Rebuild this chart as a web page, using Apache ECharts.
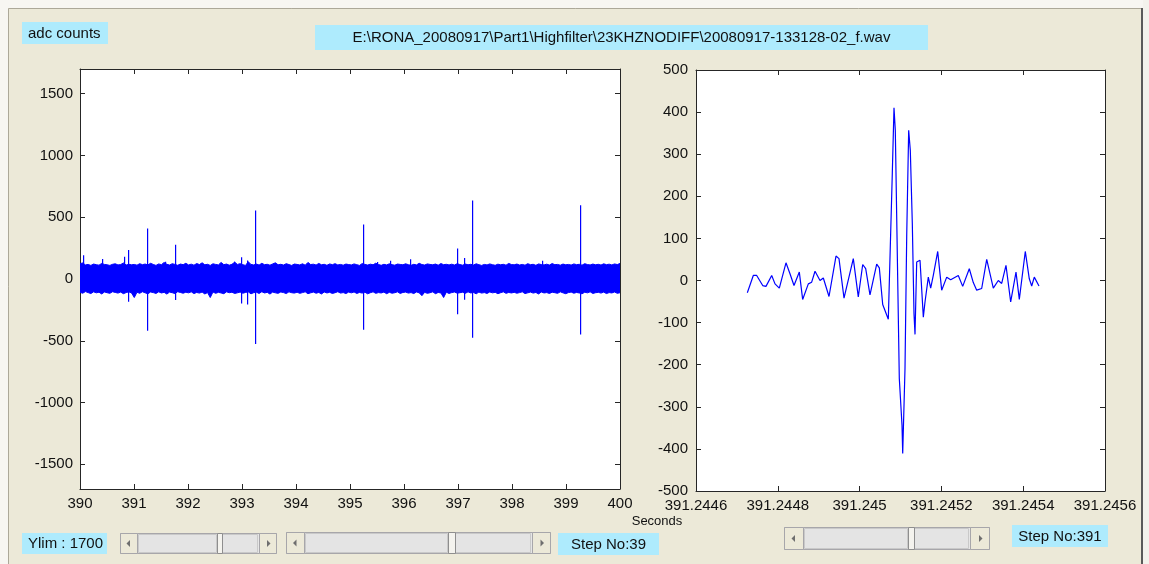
<!DOCTYPE html>
<html><head><meta charset="utf-8">
<script src="https://cdn.jsdelivr.net/npm/echarts@6/dist/echarts.min.js"></script>
<style>html,body{margin:0;padding:0;background:#fff;}#c{width:1149px;height:564px;}</style>
</head><body><div id="c"></div>
<script>
// ---------------- data ----------------
const titleText = 'E:\\RONA_20080917\\Part1\\Highfilter\\23KHZNODIFF\\20080917-133128-02_f.wav';
const yLabelText = 'adc counts';
const xLabelText = 'Seconds';
const ylimText = 'Ylim : 1700';
const stepLeftText = 'Step No:39';
const stepRightText = 'Step No:391';

const leftXMin = 390, leftXMax = 400;
const leftXTicks = [390, 391, 392, 393, 394, 395, 396, 397, 398, 399, 400];
const leftYLim = 1700;
const leftYTicks = [-1500, -1000, -500, 0, 500, 1000, 1500];

// noise band envelope, 200 bins across 390..400 s
const bandHi = [
124,130,114,118,110,121,116,112,126,118,115,110,119,123,114,117,130,113,119,115,
118,112,124,116,121,114,127,118,110,122,116,134,119,113,124,118,111,121,116,127,
114,120,112,125,117,131,115,119,110,123,118,114,134,116,121,112,119,136,118,124,
116,110,140,118,114,121,113,127,116,119,112,122,131,115,119,113,124,117,110,121,
118,114,123,112,134,117,120,113,126,115,119,111,122,116,124,114,118,112,121,117,
114,122,116,110,125,118,113,120,115,128,117,111,119,114,123,116,112,121,118,115,
123,116,111,119,114,127,117,113,122,118,115,121,112,125,116,119,114,120,113,124,
117,112,121,115,119,113,123,116,110,118,114,122,116,111,120,115,119,112,126,117,
115,121,113,118,112,124,116,119,111,122,117,114,120,113,125,116,118,112,121,115,
118,113,122,116,119,112,124,117,114,121,115,119,113,123,116,120,114,122,117,126];
const bandLo = [
-108,-115,-102,-110,-118,-104,-112,-107,-121,-105,-111,-116,-103,-109,-114,-106,-119,-110,-104,-113,
-150,-107,-116,-103,-112,-120,-105,-110,-117,-104,-113,-108,-122,-106,-111,-118,-103,-109,-115,-107,
-112,-104,-118,-109,-114,-106,-121,-110,-150,-105,-116,-108,-113,-119,-104,-111,-107,-117,-112,-106,
-115,-109,-104,-120,-111,-107,-117,-103,-113,-108,-122,-106,-112,-116,-105,-110,-118,-104,-111,-114,
-107,-116,-110,-104,-119,-112,-106,-115,-109,-121,-105,-113,-108,-117,-111,-103,-114,-110,-118,-106,
-112,-105,-117,-109,-114,-107,-120,-111,-104,-116,-110,-113,-106,-119,-108,-115,-111,-104,-117,-109,
-106,-114,-110,-118,-105,-112,-135,-108,-116,-111,-104,-119,-109,-113,-150,-107,-117,-110,-105,-115,
-111,-107,-116,-104,-113,-109,-120,-106,-114,-110,-117,-105,-112,-108,-119,-111,-104,-116,-109,-113,
-108,-115,-110,-104,-118,-112,-106,-114,-109,-121,-105,-113,-110,-117,-107,-111,-116,-104,-112,-119,
-110,-106,-115,-109,-113,-120,-107,-112,-104,-117,-111,-108,-114,-106,-118,-110,-113,-105,-116,-111];

// isolated spikes (time, upper extreme, lower extreme)
const spikeTimes = [390.06, 390.41, 390.82, 390.895, 391.246, 391.57, 391.76, 392.85, 392.98, 393.09, 393.24, 395.246, 395.5, 395.74, 396.11, 396.975, 397.12, 397.253, 398.56, 399.26];
const spikeUp    = [193, 161, 180, 234, 409, 140, 277, 140, 177, 150, 554, 441, 137, 148, 159, 247, 169, 635, 148, 597];
const spikeDown  = [0, 0, 0, -185, -419, 0, -170, 0, -199, -207, -527, -411, 0, 0, 0, -285, -167, -476, 0, -449];

const rightXMin = 391.2446, rightXMax = 391.2456;
const rightXTicks = [391.2446, 391.2448, 391.245, 391.2452, 391.2454, 391.2456];
const rightYMin = -500, rightYMax = 500;
const rightYTicks = [-500, -400, -300, -200, -100, 0, 100, 200, 300, 400, 500];

const waveTimes = [391.2447255, 391.2447401, 391.2447484, 391.2447631, 391.2447711, 391.2447851, 391.2447932, 391.2448037, 391.2448200, 391.2448298,
 391.2448396, 391.2448526, 391.2448608, 391.2448746, 391.2448828, 391.2448910, 391.2449032, 391.2449113, 391.2449252, 391.2449423,
 391.2449496, 391.2449619, 391.2449846, 391.2449968, 391.2450076, 391.2450149, 391.2450254, 391.2450418, 391.2450482, 391.2450565,
 391.2450702, 391.2450800, 391.2450841, 391.2450873, 391.2450971, 391.2451037, 391.2451054, 391.2451110, 391.2451152, 391.2451200,
 391.2451240, 391.2451289, 391.2451330, 391.2451355, 391.2451396, 391.2451477, 391.2451558, 391.2451599, 391.2451680, 391.2451738,
 391.2451802, 391.2451910, 391.2452007, 391.2452130, 391.2452227, 391.2452413, 391.2452521, 391.2452682, 391.2452780, 391.2452863,
 391.2452985, 391.2453108, 391.2453269, 391.2453391, 391.2453474, 391.2453579, 391.2453694, 391.2453824, 391.2453905, 391.2454051,
 391.2454149, 391.2454208, 391.2454271, 391.2454386];
const waveValues = [-29,12,12,-12,-14,12,-8,-18,42,16,
 -12,20,-45,-8,-4,22,0,6,-38,58,
 52,-42,52,-39,38,28,-34,39,30,-57,
 -92,256,410,357,-233,-344,-411,-209,107,357,
 309,135,-79,-128,44,48,-87,-51,8,-18,
 12,69,-23,8,2,12,-14,28,-5,-23,
 -19,50,-18,0,-7,36,-51,20,-45,69,
 4,-13,8,-13];

// ---------------- styling ----------------
const FONT = '"Liberation Sans", Arial, sans-serif';
const BLUE = '#0000FF';
const AXC = '#262626';
const CYAN = '#AEEBFD';
const BEIGE = '#ECE9D8';

function axisCommon(extra) {
  return Object.assign({
    type: 'value', scale: false,
    axisLine: { show: true, onZero: false, lineStyle: { color: AXC, width: 1 } },
    axisTick: { show: true, inside: true, length: 5, lineStyle: { color: AXC } },
    splitLine: { show: false },
    axisLabel: { color: '#111', fontFamily: FONT, fontSize: 15 }
  }, extra);
}
const plainFmt = v => String(v);

const bandN = bandHi.length;
const bandT = bandHi.map((_, i) => leftXMin + i * (leftXMax - leftXMin) / (bandN - 1));

const chart = echarts.init(document.getElementById('c'), null, { renderer: 'canvas' });

function scrollbar(x, y, w, h, thumbX, thumbW) {
  const bw = h - 3;
  const els = [];
  els.push({ type: 'rect', shape: { x: x + 0.5, y: y + 0.5, width: w, height: h }, style: { fill: '#E6E6E6', stroke: '#A7A6AA', lineWidth: 1 } });
  els.push({ type: 'rect', shape: { x: x + bw + 1.5, y: y + 1.5, width: thumbX - x - bw - 2, height: h - 2 }, style: { fill: '#E4E4E4', stroke: '#C9C9C9', lineWidth: 1 } });
  els.push({ type: 'rect', shape: { x: thumbX + thumbW + 0.5, y: y + 1.5, width: x + w - bw - thumbX - thumbW - 2, height: h - 2 }, style: { fill: '#E4E4E4', stroke: '#C9C9C9', lineWidth: 1 } });
  els.push({ type: 'rect', shape: { x: x + 0.5, y: y + 0.5, width: bw, height: h }, style: { fill: BEIGE, stroke: '#A7A6AA', lineWidth: 1 } });
  els.push({ type: 'rect', shape: { x: x + w - bw + 0.5, y: y + 0.5, width: bw, height: h }, style: { fill: BEIGE, stroke: '#A7A6AA', lineWidth: 1 } });
  const cy = y + h / 2 + 0.5;
  const lx = x + bw / 2;
  els.push({ type: 'polygon', shape: { points: [[lx - 2, cy], [lx + 1.5, cy - 3.5], [lx + 1.5, cy + 3.5]] }, style: { fill: '#6E6E6E' } });
  const rx = x + w - bw / 2 + 1;
  els.push({ type: 'polygon', shape: { points: [[rx + 2, cy], [rx - 1.5, cy - 3.5], [rx - 1.5, cy + 3.5]] }, style: { fill: '#6E6E6E' } });
  els.push({ type: 'rect', shape: { x: thumbX + 0.5, y: y + 0.5, width: thumbW, height: h }, style: { fill: '#F4F3EE', stroke: '#8E8E8E', lineWidth: 1 } });
  return els;
}

function labelBox(x, y, w, h, text, align) {
  return [
    { type: 'rect', shape: { x: x, y: y, width: w, height: h }, style: { fill: CYAN } },
    { type: 'text', x: align === 'left' ? x + 6 : x + w / 2, y: y + h / 2 + 0.5,
      style: { text: text, fill: '#111', font: '15px ' + FONT, textAlign: align === 'left' ? 'left' : 'center', textVerticalAlign: 'middle' } }
  ];
}

const graphics = [].concat(
  [{ type: 'rect', shape: { x: 0, y: 0, width: 1149, height: 8 }, style: { fill: '#F7F6F2' } },
   { type: 'rect', shape: { x: 0, y: 0, width: 8, height: 564 }, style: { fill: '#F7F6F2' } },
   { type: 'rect', shape: { x: 1143, y: 0, width: 6, height: 564 }, style: { fill: '#F3F2EC' } },
   { type: 'line', shape: { x1: 8.5, y1: 8.5, x2: 1142, y2: 8.5 }, style: { stroke: '#ACA899', lineWidth: 1 } },
   { type: 'line', shape: { x1: 8.5, y1: 8.5, x2: 8.5, y2: 564 }, style: { stroke: '#ACA899', lineWidth: 1 } },
   { type: 'line', shape: { x1: 1142, y1: 8, x2: 1142, y2: 564 }, style: { stroke: '#5A5A5A', lineWidth: 2 } }],
  labelBox(22, 22, 86, 22, yLabelText, 'left'),
  labelBox(315, 25, 613, 25, titleText, 'center'),
  labelBox(22, 533, 85, 21, ylimText, 'left'),
  labelBox(558, 533, 101, 22, stepLeftText, 'center'),
  labelBox(1012, 525, 96, 22, stepRightText, 'center'),
  [{ type: 'text', x: 657, y: 521, style: { text: xLabelText, fill: '#111', font: '13px ' + FONT, textAlign: 'center', textVerticalAlign: 'middle' } }],
  scrollbar(120, 533, 156, 20, 217, 5),
  scrollbar(286, 532, 264, 21, 448, 7),
  scrollbar(784, 527, 205, 22, 908, 6)
);

const option = {
  animation: false,
  backgroundColor: BEIGE,
  grid: [
    { left: 80, top: 69, width: 540, height: 420, show: true, backgroundColor: '#fff', borderWidth: 0 },
    { left: 696, top: 70, width: 409, height: 421, show: true, backgroundColor: '#fff', borderWidth: 0 }
  ],
  xAxis: [
    axisCommon({ gridIndex: 0, position: 'bottom', min: leftXMin, max: leftXMax, interval: 1,
      axisLabel: { color: '#111', fontFamily: FONT, fontSize: 15, margin: 7, formatter: plainFmt } }),
    axisCommon({ gridIndex: 0, position: 'top', min: leftXMin, max: leftXMax, interval: 1, axisLabel: { show: false } }),
    axisCommon({ gridIndex: 1, position: 'bottom', min: rightXMin, max: rightXMax,
      axisTick: { show: true, inside: true, length: 5, lineStyle: { color: AXC }, customValues: rightXTicks },
      axisLabel: { color: '#111', fontFamily: FONT, fontSize: 15, margin: 7, customValues: rightXTicks,
        formatter: v => String(+(+v).toFixed(4)) } }),
    axisCommon({ gridIndex: 1, position: 'top', min: rightXMin, max: rightXMax,
      axisTick: { show: true, inside: true, length: 5, lineStyle: { color: AXC }, customValues: rightXTicks },
      axisLabel: { show: false, customValues: rightXTicks } })
  ],
  yAxis: [
    axisCommon({ gridIndex: 0, position: 'left', min: -leftYLim, max: leftYLim,
      axisTick: { show: true, inside: true, length: 5, lineStyle: { color: AXC }, customValues: leftYTicks },
      axisLabel: { color: '#111', fontFamily: FONT, fontSize: 15, margin: 7, customValues: leftYTicks, formatter: plainFmt } }),
    axisCommon({ gridIndex: 0, position: 'right', min: -leftYLim, max: leftYLim,
      axisTick: { show: true, inside: true, length: 5, lineStyle: { color: AXC }, customValues: leftYTicks },
      axisLabel: { show: false, customValues: leftYTicks } }),
    axisCommon({ gridIndex: 1, position: 'left', min: rightYMin, max: rightYMax,
      axisTick: { show: true, inside: true, length: 5, lineStyle: { color: AXC }, customValues: rightYTicks },
      axisLabel: { color: '#111', fontFamily: FONT, fontSize: 15, margin: 8, customValues: rightYTicks, formatter: plainFmt } }),
    axisCommon({ gridIndex: 1, position: 'right', min: rightYMin, max: rightYMax,
      axisTick: { show: true, inside: true, length: 5, lineStyle: { color: AXC }, customValues: rightYTicks },
      axisLabel: { show: false, customValues: rightYTicks } })
  ],
  series: [
    { type: 'line', xAxisIndex: 0, yAxisIndex: 0, data: bandHi.map((v, i) => [bandT[i], v]),
      showSymbol: false, silent: true, lineStyle: { color: BLUE, width: 1 }, areaStyle: { color: BLUE, opacity: 1, origin: 'auto' } },
    { type: 'line', xAxisIndex: 0, yAxisIndex: 0, data: bandLo.map((v, i) => [bandT[i], v]),
      showSymbol: false, silent: true, lineStyle: { color: BLUE, width: 1 }, areaStyle: { color: BLUE, opacity: 1, origin: 'auto' } },
    { type: 'custom', xAxisIndex: 0, yAxisIndex: 0, silent: true, clip: true,
      itemStyle: { color: BLUE },
      data: spikeTimes.map((t, i) => [t, spikeUp[i], spikeDown[i]]),
      encode: { x: 0, y: [1, 2] },
      renderItem: function (params, api) {
        const a = api.coord([api.value(0), api.value(1)]);
        const b = api.coord([api.value(0), api.value(2)]);
        const x = Math.round(a[0]);
        const y1 = Math.min(a[1], b[1]), y2 = Math.max(a[1], b[1]);
        return { type: 'rect', shape: { x: x, y: y1, width: 1.2, height: y2 - y1 }, style: { fill: BLUE, stroke: null } };
      } },
    { type: 'line', xAxisIndex: 2, yAxisIndex: 2, data: waveTimes.map((t, i) => [t, waveValues[i]]),
      showSymbol: false, silent: true, lineStyle: { color: BLUE, width: 1.2 } }
  ],
  graphic: { elements: graphics }
};
chart.setOption(option);
</script></body></html>
